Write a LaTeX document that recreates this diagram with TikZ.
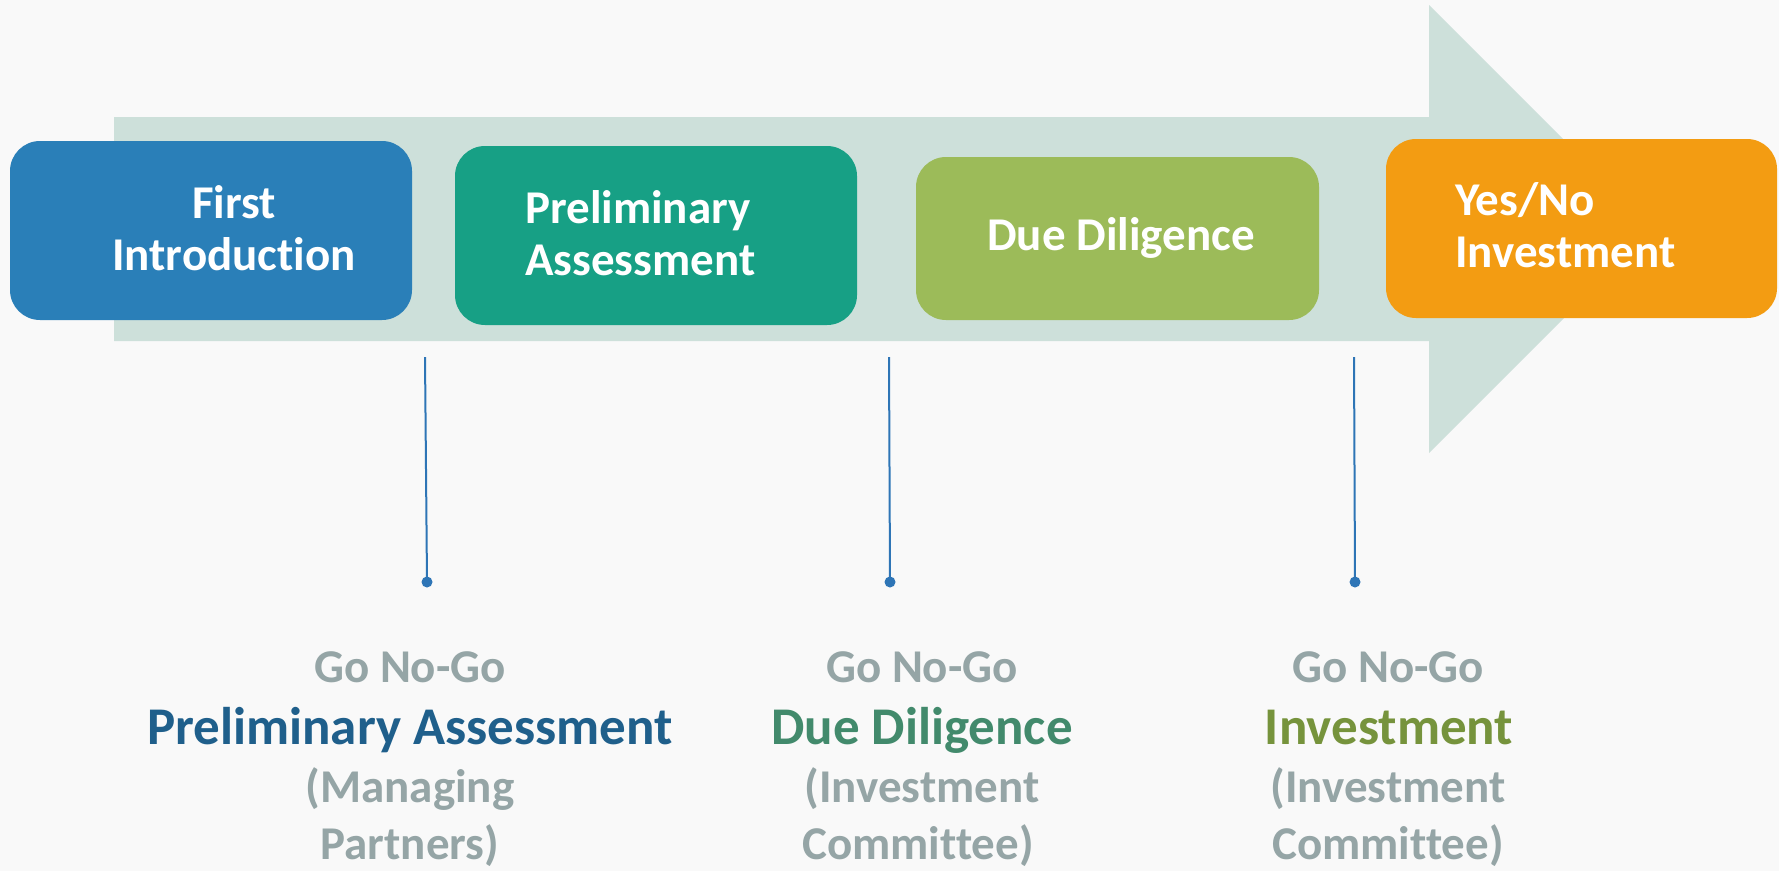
\documentclass[tikz,border=0pt]{standalone}
\usepackage{fontspec}
\setmainfont{Carlito}[Ligatures=NoCommon]
\definecolor{bgc}{HTML}{F9F9F9}
\definecolor{arrowc}{HTML}{CDE0DA}
\definecolor{cA}{HTML}{2A7FB8}
\definecolor{cB}{HTML}{17A085}
\definecolor{cC}{HTML}{9CBB59}
\definecolor{cD}{HTML}{F39C12}
\definecolor{linec}{HTML}{2E75B6}
\definecolor{grayt}{HTML}{95A5A6}
\definecolor{tA}{HTML}{1F5F8B}
\definecolor{tB}{HTML}{428A6C}
\definecolor{tC}{HTML}{76933C}
\begin{document}
\begin{tikzpicture}[x=1pt,y=-1pt,
  stage/.style={rounded corners=30pt, inner sep=0pt, draw=none},
  boxtext/.style={text=white, font=\fontsize{47}{52}\selectfont\bfseries, inner sep=0pt},
  graytext/.style={text=grayt, font=\fontsize{47}{52}\selectfont\bfseries, inner sep=0pt, anchor=base},
  titletext/.style={font=\fontsize{53}{58}\selectfont\bfseries, inner sep=0pt, anchor=base},
  conn/.style={draw=linec, line width=2pt},
  dotmark/.style={circle, fill=linec, inner sep=0pt, minimum size=11pt}
]
\useasboundingbox (0,0) rectangle (1779,871);
\fill[bgc] (0,0) rectangle (1779,871);
% big arrow
\fill[arrowc] (114,117) -- (1429,117) -- (1429,5) -- (1653,229) -- (1429,453) -- (1429,341) -- (114,341) -- cycle;
% stage boxes
\path[stage, fill=cA] (10,141) rectangle (412,320);
\node[inner sep=0pt, minimum width=402pt, minimum height=179pt] (b1) at (211,230.5) {};
\path[stage, fill=cB] (455,146) rectangle (857,325);
\node[inner sep=0pt, minimum width=402pt, minimum height=179pt] (b2) at (656,235.5) {};
\path[stage, fill=cC] (916,157) rectangle (1319,320);
\node[inner sep=0pt, minimum width=403pt, minimum height=163pt] (b3) at (1117.5,238.5) {};
\path[stage, fill=cD] (1386,139) rectangle (1777,318);
\node[inner sep=0pt, minimum width=391pt, minimum height=179pt] (b4) at (1581.5,228.5) {};
% box texts
\node[boxtext, anchor=base] (t1a) at (234,218) {First};
\node[boxtext, anchor=base] (t1b) at (234,270) {Introduction};
\node[boxtext, anchor=base west] (t2a) at (525,223) {Preliminary};
\node[boxtext, anchor=base west] (t2b) at (525,275) {Assessment};
\node[boxtext, anchor=base] (t3a) at (1121,250) {Due Diligence};
\node[boxtext, anchor=base west] (t4a) at (1455,215) {Yes/No};
\node[boxtext, anchor=base west] (t4b) at (1455,267) {Investment};
% connectors
\coordinate (l1) at (425,357);
\coordinate (l2) at (889,357);
\coordinate (l3) at (1354,357);
\node[dotmark] (d1) at (427,582) {};
\node[dotmark] (d2) at (890,582) {};
\node[dotmark] (d3) at (1355,582) {};
\draw[conn] (l1) -- (d1.center);
\draw[conn] (l2) -- (d2.center);
\draw[conn] (l3) -- (d3.center);
% bottom texts
\node[graytext] (g1a) at (410,682) {Go No-Go};
\node[titletext, text=tA] (g1b) at (410,744) {Preliminary Assessment};
\node[graytext] (g1c) at (410,802) {(Managing};
\node[graytext] (g1d) at (410,859) {Partners)};
\node[graytext] (g2a) at (922,682) {Go No-Go};
\node[titletext, text=tB] (g2b) at (922,744) {Due Diligence};
\node[graytext] (g2c) at (922,802) {(Investment};
\node[graytext] (g2d) at (918,859) {Committee)};
\node[graytext] (g3a) at (1388,682) {Go No-Go};
\node[titletext, text=tC] (g3b) at (1389,744) {Investment};
\node[graytext] (g3c) at (1388,802) {(Investment};
\node[graytext] (g3d) at (1388,859) {Committee)};
\end{tikzpicture}
\end{document}
